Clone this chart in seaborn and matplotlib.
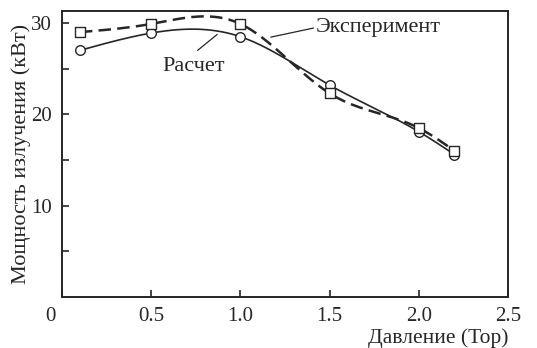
import numpy as np
import pandas as pd
import matplotlib
matplotlib.use("Agg")
import matplotlib.pyplot as plt
import matplotlib.transforms as mtransforms
import seaborn as sns

# Data
pressure = [0.1, 0.5, 1.0, 1.5, 2.0, 2.2]
power_calc = [27.0, 28.9, 28.5, 23.2, 18.1, 15.6]
power_exp = [29.0, 29.9, 29.9, 22.3, 18.5, 16.0]
x_ticks = [0, 0.5, 1.0, 1.5, 2.0, 2.5]
x_tick_labels = ["0", "0.5", "1.0", "1.5", "2.0", "2.5"]
y_ticks = [10, 20, 30]

sns.set_theme(style="ticks")
plt.rcParams['font.family'] = ['Liberation Serif', 'DejaVu Serif']

INK = "#262626"


def smooth(x, y, n=300):
    # natural cubic spline, only for drawing the curve through the points
    x = np.asarray(x, float)
    y = np.asarray(y, float)
    k = len(x)
    h = np.diff(x)
    A = np.zeros((k, k))
    b = np.zeros(k)
    A[0, 0] = A[-1, -1] = 1
    for i in range(1, k - 1):
        A[i, i - 1] = h[i - 1]
        A[i, i] = 2 * (h[i - 1] + h[i])
        A[i, i + 1] = h[i]
        b[i] = 6 * ((y[i + 1] - y[i]) / h[i] - (y[i] - y[i - 1]) / h[i - 1])
    M = np.linalg.solve(A, b)
    xs = np.linspace(x[0], x[-1], n)
    idx = np.clip(np.searchsorted(x, xs) - 1, 0, k - 2)
    x0, x1 = x[idx], x[idx + 1]
    hh = x1 - x0
    t0, t1 = x1 - xs, xs - x0
    ys = (M[idx] * t0 ** 3 + M[idx + 1] * t1 ** 3) / (6 * hh) \
        + (y[idx] / hh - M[idx] * hh / 6) * t0 \
        + (y[idx + 1] / hh - M[idx + 1] * hh / 6) * t1
    return xs, ys


fig = plt.figure(figsize=(5.37, 3.48), dpi=100)
ax = fig.add_axes([0.1155, 0.1466, 0.8305, 0.8214])

xs, ys = smooth(pressure, power_calc)
sns.lineplot(x=xs, y=ys, ax=ax, color=INK, lw=1.2, sort=False)
xs, ys = smooth(pressure, power_exp)
sns.lineplot(x=xs, y=ys, ax=ax, color=INK, lw=1.8, sort=False)
ax.lines[-1].set_dashes([5, 2.5])

df = pd.DataFrame({"p": pressure, "calc": power_calc, "exp": power_exp})
sns.scatterplot(data=df, x="p", y="calc", ax=ax, marker="o", s=48,
                facecolor="white", edgecolor=INK, linewidth=1.0, zorder=3)
sns.scatterplot(data=df, x="p", y="exp", ax=ax, marker="s", s=44,
                facecolor="white", edgecolor=INK, linewidth=1.0, zorder=3)

ax.set_xlim(0, 2.5)
ax.set_ylim(0, 31.3)
ax.set_xticks(x_ticks)
ax.set_xticklabels(x_tick_labels)
ax.set_yticks(y_ticks)
ax.set_yticks([5, 15, 25], minor=True)
ax.tick_params(axis="both", which="both", direction="in", length=5,
               width=1.2, color=INK, labelsize=15, labelcolor=INK, pad=7)
ax.tick_params(axis="x", pad=7)
for sp in ax.spines.values():
    sp.set_linewidth(1.4)
    sp.set_color(INK)

# shift the "0" label to the left like in the original
lbl = ax.get_xticklabels()[0]
lbl.set_transform(lbl.get_transform() + mtransforms.ScaledTranslation(-12 / 100, 0, fig.dpi_scale_trans))

ax.set_xlabel("Давление (Тор)", fontsize=15.5, color=INK)
ax.xaxis.set_label_coords(1.0, -0.162)
ax.xaxis.label.set_horizontalalignment("right")
ax.xaxis.label.set_verticalalignment("baseline")
ax.set_ylabel("Мощность излучения (кВт)", fontsize=16, color=INK)
ax.yaxis.set_label_coords(-0.07, 0.5)

ax.annotate("", xy=(1.17, 28.45), xytext=(1.41, 29.45),
            arrowprops=dict(arrowstyle="-", color=INK, lw=0.9, shrinkA=0, shrinkB=0))
ax.text(1.42, 29.5, "Эксперимент", fontsize=16, color=INK, va="center", ha="left")
ax.annotate("", xy=(0.87, 28.75), xytext=(0.76, 27.0),
            arrowprops=dict(arrowstyle="-", color=INK, lw=0.9, shrinkA=0, shrinkB=0))
ax.text(0.74, 25.2, "Расчет", fontsize=16, color=INK, va="center", ha="center")

fig.savefig("out.png", dpi=100)
